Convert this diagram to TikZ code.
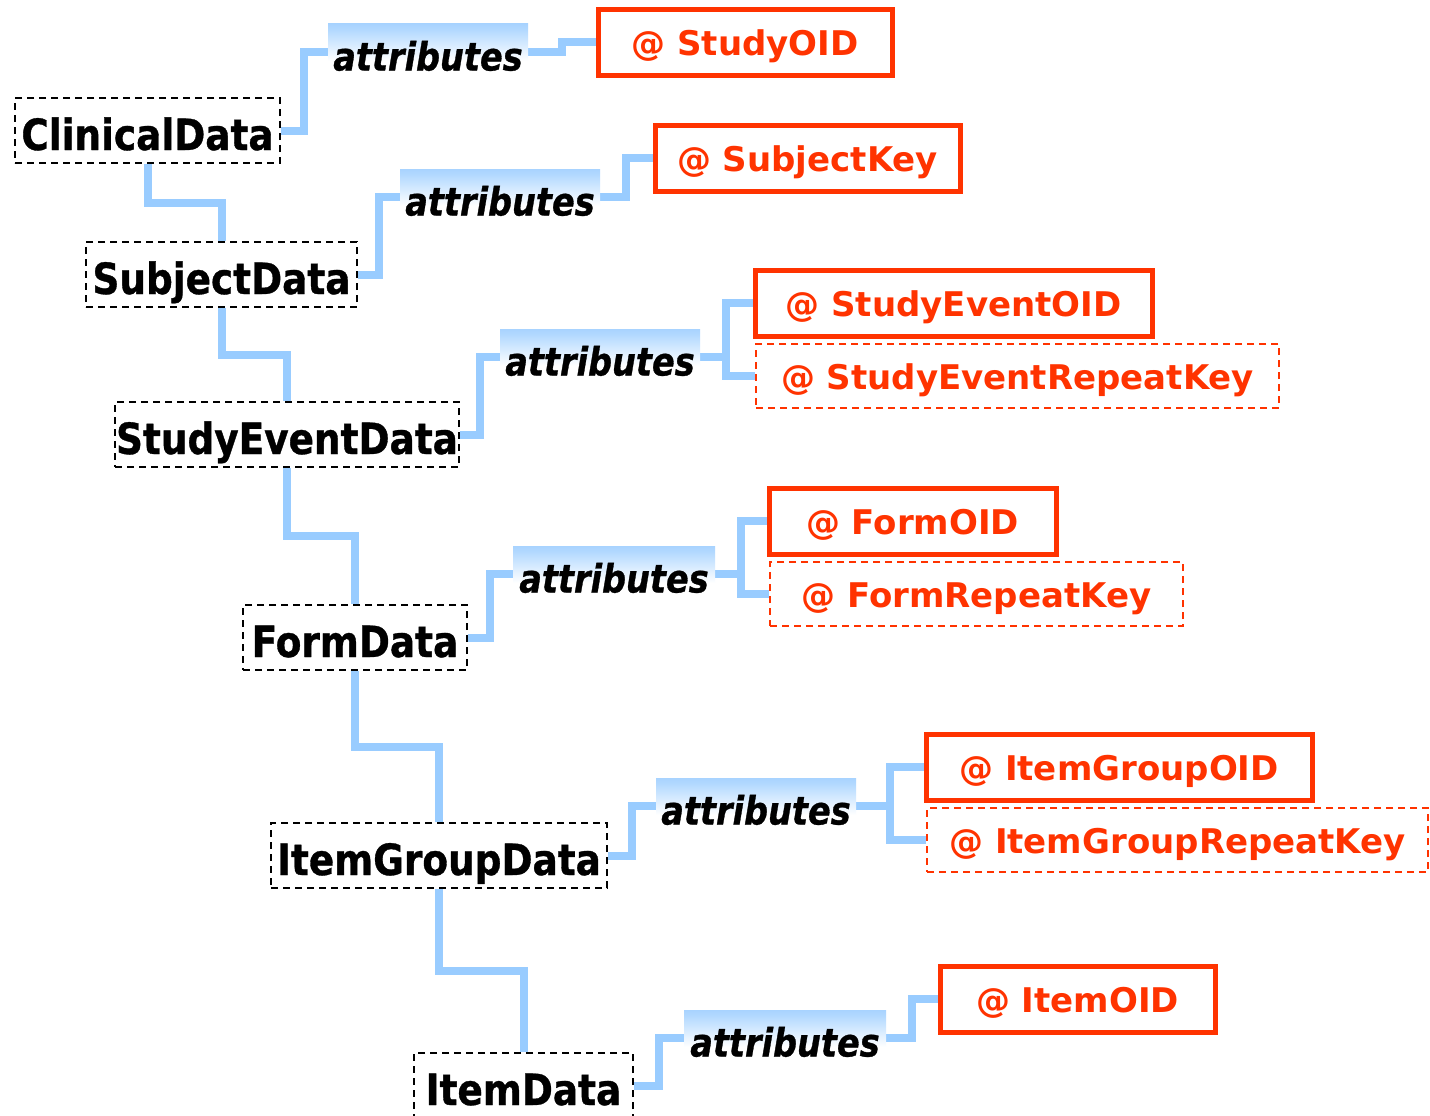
\documentclass[tikz,border=0pt]{standalone}
\usepackage{fontspec}
\usetikzlibrary{calc,backgrounds}
\newfontfamily\tahfont{DejaVu Sans}[FakeStretch=0.87,FakeBold=0.8]
\newfontfamily\attrfont{DejaVu Sans}[FakeStretch=0.86,FakeBold=0.8]
\newfontfamily\verfont{DejaVu Sans}
\definecolor{linkblue}{HTML}{99CCFF}
\definecolor{attrred}{HTML}{FF3300}
\pgfdeclareverticalshading{attrshade}{100bp}{%
  color(0bp)=(white); color(25bp)=(white); color(42bp)=(white);
  color(55bp)=(linkblue!35!white); color(70bp)=(linkblue!75!white);
  color(82bp)=(linkblue); color(100bp)=(linkblue)}
\tikzset{
  elem/.style={draw=black, fill=white, line width=2pt,
    dash pattern=on 7pt off 5pt, minimum height=65pt, inner sep=0pt,
    font=\tahfont\bfseries\fontsize{43}{48}\selectfont,
    text height=39pt, text depth=0pt},
  attrgroup/.style={draw=none, shading=attrshade, minimum width=200pt,
    minimum height=56pt, inner sep=0pt,
    font=\attrfont\bfseries\itshape\fontsize{39}{44}\selectfont,
    text height=37pt, text depth=0pt},
  keybox/.style={draw=attrred, fill=white, line width=5pt, text=attrred,
    minimum height=66pt, inner sep=0pt,
    font=\verfont\bfseries\fontsize{34}{40}\selectfont,
    text height=27pt, text depth=0pt},
  optkey/.style={keybox, line width=2pt, dash pattern=on 7pt off 5pt,
    minimum height=64pt},
  conn/.style={draw=linkblue, line width=8pt, line join=miter, line cap=butt}
}
\begin{document}
\begin{tikzpicture}[x=1pt,y=-1pt]
\useasboundingbox (0,0) rectangle (1430,1116);

% element nodes
\node[elem, minimum width=265pt] (CD)  at (147.5,130.5) {ClinicalData};
\node[elem, minimum width=271pt] (SD)  at (221.5,274.5) {SubjectData};
\node[elem, minimum width=344pt] (SED) at (287,434.5)   {StudyEventData};
\node[elem, minimum width=224pt] (FD)  at (355,637.5)   {FormData};
\node[elem, minimum width=336pt] (IGD) at (439,855.5)   {ItemGroupData};
\node[elem, minimum width=219pt] (ID)  at (523.5,1085.5){ItemData};

% attribute groups
\node[attrgroup] (A1) at (428,52)  {attributes};
\node[attrgroup] (A2) at (500,197) {attributes};
\node[attrgroup] (A3) at (600,357) {attributes};
\node[attrgroup, minimum width=202pt] (A4) at (614,574) {attributes};
\node[attrgroup] (A5) at (756,806) {attributes};
\node[attrgroup, minimum width=202pt] (A6) at (785,1038) {attributes};

% attributes
\node[keybox, minimum width=294pt] (R1)  at (745,42.5)   {@ StudyOID};
\node[keybox, minimum width=305pt] (R2)  at (807.5,158)  {@ SubjectKey};
\node[keybox, minimum width=397pt] (R3a) at (953.5,303)  {@ StudyEventOID};
\node[optkey, minimum width=523pt] (R3b) at (1017.5,376) {@ StudyEventRepeatKey};
\node[keybox, minimum width=287pt] (R4a) at (912.5,521)  {@ FormOID};
\node[optkey, minimum width=413pt] (R4b) at (976.5,594)  {@ FormRepeatKey};
\node[keybox, minimum width=386pt] (R5a) at (1119,767)   {@ ItemGroupOID};
\node[optkey, minimum width=501pt] (R5b) at (1177.5,840) {@ ItemGroupRepeatKey};
\node[keybox, minimum width=275pt] (R6)  at (1077.5,999) {@ ItemOID};

\begin{scope}[on background layer]
  \fill[white] (0,0) rectangle (1430,1116);
  % parent to child
  \foreach \p/\c in {CD/SD, SD/SED, SED/FD, FD/IGD, IGD/ID}
    \draw[conn] (\p.south) |- ($(\p.south)!0.5!(\c.north)$) -| (\c.north);
  % element to attribute group
  \foreach \e/\a in {CD/A1, SD/A2, SED/A3, FD/A4, IGD/A5, ID/A6}
    \draw[conn] (\e.east) -| ($(\e.east)!0.5!(\a.west)$) |- (\a.west);
  % attribute group to single attribute
  \foreach \a/\r in {A1/R1, A2/R2, A6/R6}
    \draw[conn] (\a.east) -| ($(\a.east)!0.5!(\r.west)$) |- (\r.west);
  % attribute group to two attributes
  \foreach \a/\r/\s in {A3/R3a/R3b, A4/R4a/R4b, A5/R5a/R5b} {
    \coordinate (m) at ($(\a.east)!0.5!(\r.west)$);
    \draw[conn] (\a.east) -- (\a.east -| m);
    \draw[conn] (\r.west) -| (m) |- (\s.west);
  }
\end{scope}
\end{tikzpicture}
\end{document}
